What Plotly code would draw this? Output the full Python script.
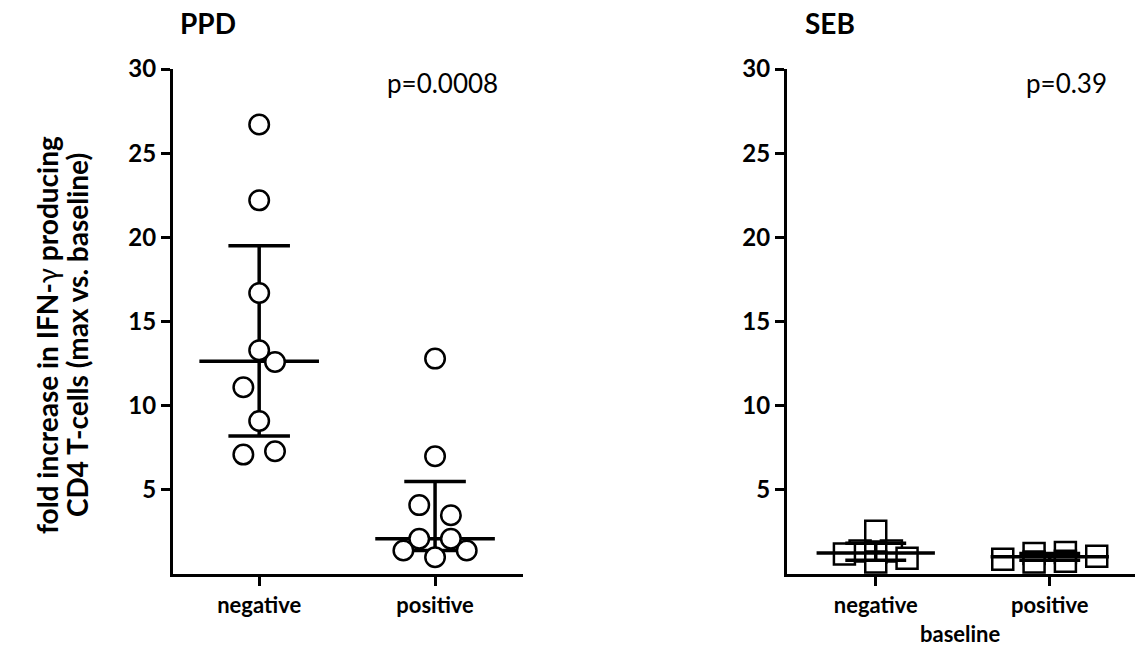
import plotly.graph_objects as go

# ---------------- data ----------------
categories = ["negative", "positive"]

ppd_negative = [26.7, 22.2, 16.7, 13.3, 12.6, 11.1, 9.1, 7.1, 7.3]
ppd_positive = [12.8, 7.0, 4.1, 3.5, 2.1, 2.1, 1.4, 1.4, 1.0]
seb_negative = [2.55, 1.38, 1.38, 1.3, 1.19, 0.95, 0.72]
seb_positive = [0.89, 1.23, 0.72, 1.28, 0.77, 1.07]

# median, lower quartile, upper quartile (as drawn)
ppd_summary = {"negative": (12.65, 8.2, 19.5), "positive": (2.1, 1.4, 5.5)}
seb_summary = {"negative": (1.26, 0.83, 1.84), "positive": (1.03, 0.82, 1.22)}

p_values = ["p=0.0008", "p=0.39"]
panel_titles = ["PPD", "SEB"]
y_title_lines = ["<b>fold increase in IFN-</b>γ<b> producing</b>",
                 "<b>CD4 T-cells (max vs. baseline)</b>"]
x_title = "baseline"
y_ticks = [5, 10, 15, 20, 25, 30]

# horizontal scatter offsets (layout only)
ppd_neg_dx = [0, 0, 0, 0, 0.09, -0.09, 0, -0.09, 0.09]
ppd_pos_dx = [0, 0, -0.09, 0.09, -0.09, 0.09, -0.18, 0.18, 0]
seb_neg_dx = [0, -0.09, 0.09, 0, -0.18, 0.18, 0]
seb_pos_dx = [-0.27, -0.09, -0.09, 0.09, 0.09, 0.27]

FONT = "Lato"
W, H = 1135, 647


def py(v):
    """vertical pixel position (from top) -> paper fraction, compensating page offset"""
    return 1 - ((v - 16) / 0.975) / H


fig = go.Figure()


def add_summary(xa, ya, summary):
    for i, cat in enumerate(categories):
        med, lo, hi = summary[cat]
        fig.add_trace(go.Scatter(x=[i, i], y=[lo, hi], mode="lines",
                                 line=dict(color="black", width=3.5),
                                 xaxis=xa, yaxis=ya, showlegend=False, hoverinfo="skip"))
        for v in (lo, hi):
            fig.add_trace(go.Scatter(x=[i - 0.175, i + 0.175], y=[v, v], mode="lines",
                                     line=dict(color="black", width=3.5),
                                     xaxis=xa, yaxis=ya, showlegend=False, hoverinfo="skip"))
        fig.add_trace(go.Scatter(x=[i - 0.34, i + 0.34], y=[med, med], mode="lines",
                                 line=dict(color="black", width=3.5),
                                 xaxis=xa, yaxis=ya, showlegend=False, hoverinfo="skip"))


def add_points(xa, ya, i, vals, dx, symbol, size):
    fig.add_trace(go.Scatter(x=[i + d for d in dx], y=vals, mode="markers",
                             marker=dict(symbol=symbol, size=size, color="white",
                                         line=dict(color="black", width=2.5)),
                             xaxis=xa, yaxis=ya, showlegend=False))


add_summary("x", "y", ppd_summary)
add_points("x", "y", 0, ppd_negative, ppd_neg_dx, "circle", 19.5)
add_points("x", "y", 1, ppd_positive, ppd_pos_dx, "circle", 19.5)

add_points("x2", "y2", 0, seb_negative, seb_neg_dx, "square", 21)
add_points("x2", "y2", 1, seb_positive, seb_pos_dx, "square", 21)
add_summary("x2", "y2", seb_summary)

y_dom = [py(574), py(69)]

axis_common = dict(showline=True, linewidth=3, linecolor="black", showgrid=False,
                   zeroline=False, ticks="outside", tickwidth=3, ticklen=9,
                   tickcolor="black")
xfont = dict(family=FONT, size=22, color="black", weight="bold")
yfont = dict(family=FONT, size=24, color="black", weight="bold")

fig.update_layout(
    width=W, height=H,
    margin=dict(l=0, r=0, t=0, b=0),
    paper_bgcolor="white", plot_bgcolor="white",
    xaxis=dict(domain=[173 / W, 523 / W], range=[-0.49, 1.5],
               tickvals=[0, 1], ticktext=categories, tickfont=xfont, **axis_common),
    yaxis=dict(domain=y_dom, range=[0, 30], tickvals=y_ticks, tickfont=yfont,
               anchor="x", **axis_common),
    xaxis2=dict(domain=[787 / W, 1.0], range=[-0.51, 1.49], anchor="y2",
                tickvals=[0, 1], ticktext=categories, tickfont=xfont, **axis_common),
    yaxis2=dict(domain=y_dom, range=[0, 30], tickvals=y_ticks, tickfont=yfont,
                anchor="x2", **axis_common),
)

ann = []
ann.append(dict(text="<b>" + panel_titles[0] + "</b>", x=178 / W, y=py(23),
                xanchor="left", yanchor="middle", font=dict(family=FONT, size=28, color="black")))
ann.append(dict(text="<b>" + panel_titles[1] + "</b>", x=803 / W, y=py(23),
                xanchor="left", yanchor="middle", font=dict(family=FONT, size=28, color="black")))
ann.append(dict(text=p_values[0], x=442 / W, y=py(83), xanchor="center", yanchor="middle",
                font=dict(family=FONT, size=26, color="black")))
ann.append(dict(text=p_values[1], x=1066 / W, y=py(83), xanchor="center", yanchor="middle",
                font=dict(family=FONT, size=26, color="black")))
for line, xc in zip(y_title_lines, [47, 77]):
    ann.append(dict(text=line, x=xc / W, y=py(335), xanchor="center", yanchor="middle",
                    textangle=-90, font=dict(family=FONT, size=28, color="black")))
ann.append(dict(text="<b>" + x_title + "</b>", x=960 / W, y=py(633), xanchor="center",
                yanchor="middle", font=dict(family=FONT, size=22, color="black")))
for a in ann:
    a.update(xref="paper", yref="paper", showarrow=False)
fig.update_layout(annotations=ann)

fig.write_html(
    "out.html",
    config={"displayModeBar": False},
    post_script=("document.body.style.margin='0px';"
                 "var d=document.getElementById('{plot_id}');"
                 "d.style.position='absolute';d.style.left='0px';d.style.top='0px';"),
)
